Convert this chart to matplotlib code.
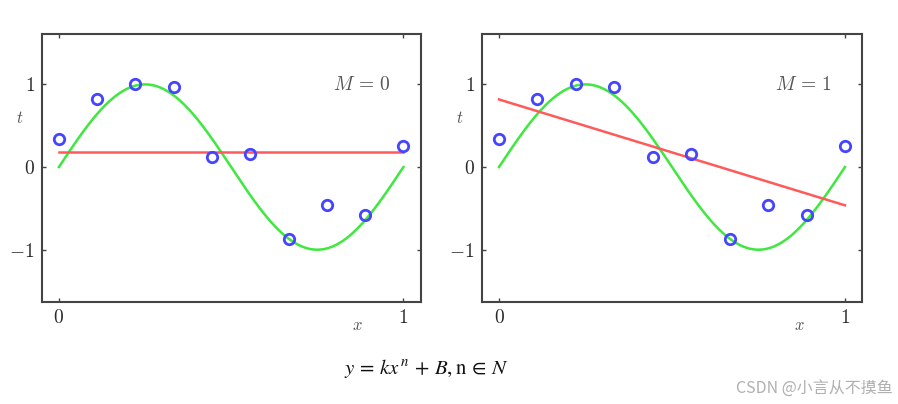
import matplotlib.pyplot as plt
import numpy as np

plt.rcParams['mathtext.fontset'] = 'cm'
plt.rcParams['font.family'] = ['DejaVu Serif']

# observed data points (x, t)
x_pts = np.linspace(0, 1, 10)
t_pts = [0.344, 0.826, 1.008, 0.968, 0.126, 0.154, -0.866, -0.46, -0.583, 0.255]

orders = [0, 1]
panel_labels = [r'$M\,=\,0$', r'$M\,=\,1$']
x_ticks = [0, 1]
y_ticks = [-1, 0, 1]

green = '#3ee83e'
red = '#ff5a5a'
blue = '#4545ff'
text_col = '#2a2a2a'


def plot_panel(ax, order, label):
    xs = np.linspace(0, 1, 200)
    ax.plot(xs, np.sin(2 * np.pi * xs), color=green, linewidth=1.8)
    coef = np.polyfit(x_pts, t_pts, order)
    ax.plot(xs, np.polyval(coef, xs), color=red, linewidth=1.8)
    ax.plot(x_pts, t_pts, 'o', markerfacecolor='none', markeredgecolor=blue,
            markersize=7.5, markeredgewidth=2)

    ax.set_xlim(-0.05, 1.05)
    ax.set_ylim(-1.63, 1.61)
    ax.set_xticks(x_ticks)
    ax.set_yticks(y_ticks)
    ax.set_xticklabels([f'${v}$' for v in x_ticks], fontsize=14, color=text_col)
    ax.set_yticklabels([f'${v}$' for v in y_ticks], fontsize=14, color=text_col)
    ax.tick_params(direction='in', length=3, width=1, color='#444444',
                   top=True, right=True, pad=5)
    for sp in ax.spines.values():
        sp.set_color('#444444')
        sp.set_linewidth(1.5)

    ax.text(0.844, 0.81, label, transform=ax.transAxes, ha='center', va='center',
            fontsize=14, color='#555555')
    ax.text(0.834, -0.087, '$x$', transform=ax.transAxes, ha='center', va='center',
            fontsize=12, color='#555555')
    ax.text(-0.057, 0.685, '$t$', transform=ax.transAxes, ha='center', va='center',
            fontsize=12, color='#555555')


fig = plt.figure(figsize=(8.98, 4.04), dpi=100)
ax1 = fig.add_axes([0.0464, 0.253, 0.422, 0.663])
ax2 = fig.add_axes([0.5364, 0.253, 0.4238, 0.663])

plot_panel(ax1, orders[0], panel_labels[0])
plot_panel(ax2, orders[1], panel_labels[1])

fig.text(426 / 898, 1 - 368 / 404, r'$y\,=\,kx^{\,n}\,+\,B, \mathrm{n}\,\in\,N$',
         ha='center', va='center', fontsize=15, math_fontfamily='stix', color='#111111')
fig.text(893 / 898, 1 - 388 / 404, 'CSDN @小言从不摸鱼', ha='right', va='center',
         fontsize=11.5, color='#b0b0b0', family=['Noto Sans CJK SC', 'DejaVu Sans'])

fig.savefig('out.png', dpi=100)
